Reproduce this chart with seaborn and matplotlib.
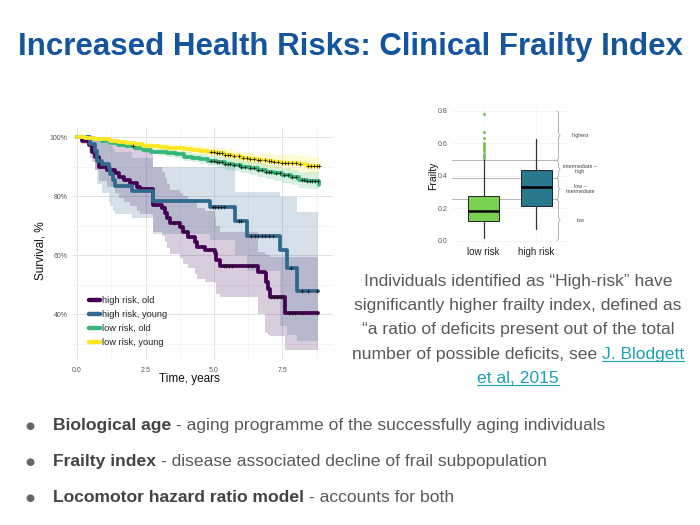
import numpy as np
import pandas as pd
import seaborn as sns
import matplotlib.pyplot as plt
from matplotlib.lines import Line2D

sns.set_theme(style="whitegrid")
plt.rcParams['font.family'] = ['Liberation Sans', 'DejaVu Sans']

W, H = 700, 525

# ---- survival curves (Kaplan-Meier) ----
groups = ['high risk, old', 'high risk, young', 'low risk, old', 'low risk, young']
colors = ['#440154', '#31688E', '#35B779', '#FDE725']

ho_t = [0, 0.18, 0.42, 0.55, 0.67, 0.79, 1.09, 1.39, 1.52, 1.70, 1.94, 2.18, 2.30, 2.79, 3.09, 3.21, 3.27,
        3.39, 3.76, 3.88, 4.06, 4.30, 4.37, 4.67, 5.03, 5.09, 5.21, 6.61, 6.85, 6.90, 6.97, 7.03, 7.58, 8.80]
ho_s = [100, 98.7, 97.3, 95.0, 93.3, 90.0, 88.9, 87.7, 86.5, 85.4, 84.3, 83.2, 82.4, 77.0, 75.9, 74.2, 72.5,
        70.8, 69.7, 68.0, 66.3, 64.6, 62.9, 61.8, 60.6, 58.4, 56.4, 54.4, 53.8, 50.9, 48.7, 45.9, 40.5, 40.5]
ho_lo = [100, 97.5, 94.5, 91.5, 89, 85, 83, 81, 79.5, 78, 76.5, 75, 74, 68, 66.5, 64.5, 62.5,
         60.5, 59, 57, 55.5, 53.5, 52, 51, 50.5, 47, 46, 40, 34, 33.5, 33, 32.5, 28, 28]
ho_hi = [100, 100, 100, 100, 99.5, 99, 98.5, 98, 97.5, 97, 96.5, 96, 95.5, 90, 88, 86, 84,
         82, 81, 80, 79, 77.5, 76, 75, 73, 70, 68, 61, 60.5, 60, 60, 59.5, 59.5, 59.5]
ho_c = [3.55, 5.35, 5.45, 5.55, 5.65, 6.25, 6.4, 7.1, 7.2, 7.3, 7.45, 7.75, 7.85, 7.95, 8.2, 8.75]

hy_t = [0, 0.48, 0.67, 0.73, 0.91, 1.15, 1.21, 1.30, 1.39, 2.00, 2.79, 4.85, 5.77, 6.20, 7.42, 7.68, 8.05, 8.80]
hy_s = [100, 97.5, 95.3, 91.9, 90.8, 89.6, 87.4, 85.5, 83.4, 81.7, 78.3, 76.2, 71.7, 66.4, 61.7, 55.6, 47.8, 47.8]
hy_lo = [100, 93, 89, 84, 81, 78, 76.5, 75, 74, 72.5, 67, 65, 60, 54.5, 36, 33, 31, 31]
hy_hi = [100, 100, 100, 99, 98.5, 98, 97, 96, 95, 93, 89.8, 89.8, 81.4, 81.4, 79.7, 79.7, 74.6, 74.6]
hy_c = [4.95, 5.05, 5.15, 5.25, 5.35, 5.9, 6.0, 6.35, 6.5, 6.6, 6.75, 6.85, 7.0, 7.15, 7.8, 8.2, 8.45, 8.75]

low_t = [0, 0.3, 0.6, 0.9, 1.2, 1.5, 1.8, 2.1, 2.4, 2.7, 3.0, 3.3, 3.6, 3.9, 4.2,
         4.5, 4.8, 5.1, 5.4, 5.7, 6.0, 6.3, 6.6, 6.9, 7.2, 7.5, 7.8, 8.1, 8.4, 8.85]
lo_s = [100, 99.7, 99.2, 98.5, 97.9, 97.4, 96.9, 96.2, 95.6, 95.1, 94.8, 94.5, 94.1, 93.4, 92.9,
        92.6, 91.9, 91.4, 90.9, 90.4, 89.9, 89.4, 88.9, 88.2, 87.7, 87.0, 86.3, 85.5, 85.2, 83.9]
lo_lo = [100, 99.5, 98.9, 98.1, 97.4, 96.8, 96.2, 95.4, 94.7, 94.1, 93.7, 93.3, 92.8, 92.0, 91.4,
         91.0, 90.2, 89.6, 89.0, 88.4, 87.8, 87.2, 86.6, 85.8, 85.2, 84.4, 83.6, 82.7, 82.3, 80.8]
lo_hi = [100, 99.9, 99.5, 98.9, 98.4, 98.0, 97.6, 97.0, 96.5, 96.1, 95.9, 95.7, 95.4, 94.8, 94.4,
         94.2, 93.6, 93.2, 92.8, 92.4, 92.0, 91.6, 91.2, 90.6, 90.2, 89.6, 89.0, 88.3, 88.1, 87.0]
lo_c = [2.05, 4.9, 5.0, 5.1, 5.2, 5.3, 5.4, 5.5, 5.6, 5.75, 5.9, 6.0, 6.15, 6.3, 6.45, 6.6, 6.75,
        6.9, 7.0, 7.1, 7.25, 7.4, 7.55, 7.7, 7.85, 8.0, 8.2, 8.3, 8.4, 8.5, 8.6, 8.7, 8.8]

ly_s = [100, 99.8, 99.5, 99.2, 98.8, 98.4, 97.9, 97.5, 97.1, 96.8, 96.6, 96.4, 96.2, 95.9, 95.6,
        95.3, 95.0, 94.5, 94.0, 93.5, 93.0, 92.5, 92.2, 91.9, 91.6, 91.3, 91.2, 91.0, 90.3, 90.3]
ly_lo = [100, 99.7, 99.3, 98.9, 98.4, 97.9, 97.3, 96.8, 96.3, 95.9, 95.6, 95.3, 95.0, 94.6, 94.2,
         93.8, 93.4, 92.8, 92.2, 91.6, 91.0, 90.4, 90.0, 89.6, 89.2, 88.8, 88.6, 88.3, 87.5, 87.4]
ly_hi = [100, 99.9, 99.7, 99.5, 99.2, 98.9, 98.5, 98.2, 97.9, 97.7, 97.6, 97.5, 97.4, 97.2, 97.0,
         96.8, 96.6, 96.2, 95.8, 95.4, 95.0, 94.6, 94.4, 94.2, 94.0, 93.8, 93.8, 93.7, 93.1, 93.2]
ly_c = [4.9, 5.0, 5.1, 5.2, 5.3, 5.4, 5.5, 5.6, 5.75, 5.9, 6.05, 6.2, 6.3, 6.45, 6.6, 6.7, 6.85,
        7.0, 7.1, 7.2, 7.35, 7.5, 7.6, 7.7, 7.85, 8.0, 8.15, 8.45, 8.55, 8.65, 8.75, 8.85]

curves = [(ho_t, ho_s, ho_lo, ho_hi, ho_c),
          (hy_t, hy_s, hy_lo, hy_hi, hy_c),
          (low_t, lo_s, lo_lo, lo_hi, lo_c),
          (low_t, ly_s, ly_lo, ly_hi, ly_c)]

# ---- frailty boxplot ----
box_labels = ['low risk', 'high risk']
box_colors = ['#7AD151', '#2A788E']
box_q1 = [0.123, 0.211]
box_med = [0.183, 0.328]
box_q3 = [0.275, 0.433]
box_lo = [0.014, 0.072]
box_hi = [0.500, 0.624]
low_outliers = [0.508, 0.522, 0.536, 0.550, 0.564, 0.578, 0.592, 0.603,
                0.632, 0.671, 0.782]
cut_points = [0.254, 0.385, 0.495]
band_names = ['low', 'low –\nintermediate', 'intermediate –\nhigh', 'highest']
band_edges = [0.0, 0.254, 0.385, 0.495, 0.80]

fig = plt.figure(figsize=(7, 5.25), dpi=100)

# ================= survival panel =================
ax = fig.add_axes([73 / W, 1 - 360 / H, 260 / W, 233 / H])
ax.set_facecolor('white')

rows = []
for g, (t, s, lo, hi, c) in zip(groups, curves):
    for ti, si in zip(t, s):
        rows.append((g, ti, si))
surv = pd.DataFrame(rows, columns=['group', 'time', 'surv'])

for col, (t, s, lo, hi, c) in zip(colors, curves):
    ax.fill_between(t, lo, hi, step='post', color=col, alpha=0.2, lw=0)

sns.lineplot(data=surv, x='time', y='surv', hue='group', palette=colors, estimator=None,
             drawstyle='steps-post', lw=2.7, ax=ax, legend=False, sort=False)

cens = []
for g, (t, s, lo, hi, c) in zip(groups, curves):
    idx = np.searchsorted(t, c, side='right') - 1
    for ci, yi in zip(c, np.asarray(s)[idx]):
        cens.append((g, ci, yi))
cens = pd.DataFrame(cens, columns=['group', 'time', 'surv'])
sns.scatterplot(data=cens, x='time', y='surv', marker='+', color='#111111', s=7,
                linewidth=0.5, ax=ax, legend=False, zorder=5)

ax.set_xlim(-0.15, 9.35)
ax.set_ylim(24.5, 103.4)
ax.set_xticks([0, 2.5, 5, 7.5])
ax.set_xticklabels(['0.0', '2.5', '5.0', '7.5'])
ax.set_yticks([40, 60, 80, 100])
ax.set_yticklabels(['40%', '60%', '80%', '100%'])
ax.set_xticks([1.25, 3.75, 6.25, 8.75], minor=True)
ax.set_yticks([30, 50, 70, 90], minor=True)
ax.grid(which='major', color='#e3e3e3', lw=0.7)
ax.grid(which='minor', color='#f0f0f0', lw=0.5)
for sp in ax.spines.values():
    sp.set_visible(False)
ax.tick_params(axis='both', which='major', labelsize=5, labelcolor='#555555', length=2,
               color='#777777', pad=2, width=0.5)
ax.tick_params(axis='x', length=0, pad=5)
ax.tick_params(which='minor', length=0)
ax.set_xlabel('Time, years', fontsize=8.5, color='#111111')
ax.set_ylabel('Survival, %', fontsize=8.5, color='#111111')
ax.xaxis.set_label_coords(0.446, -0.055)
ax.yaxis.set_label_coords(-0.10, 0.47)

handles = [Line2D([], [], color=c, lw=3.2) for c in colors]
ax.legend(handles, groups, loc='upper left', bbox_to_anchor=(0.045, 0.295), frameon=False,
          fontsize=6.7, handlelength=1.1, handletextpad=0.3, labelspacing=0.55, borderpad=0)

# ================= frailty boxplot =================
bx = fig.add_axes([452 / W, 1 - 244 / H, 116 / W, 136.5 / H])
bx.set_facecolor('white')
stats = []
for i in range(2):
    stats.append(dict(label=box_labels[i], q1=box_q1[i], med=box_med[i], q3=box_q3[i],
                      whislo=box_lo[i], whishi=box_hi[i],
                      fliers=low_outliers if i == 0 else []))
bp = bx.bxp(stats, positions=[1, 2], widths=0.6, patch_artist=True,
            boxprops=dict(edgecolor='#222222', lw=0.7),
            medianprops=dict(color='black', lw=1.8),
            whiskerprops=dict(color='#333333', lw=0.9),
            capprops=dict(lw=0),
            flierprops=dict(marker='o', markersize=1.7, markerfacecolor='#7AD151',
                            markeredgecolor='#5a9e3a', markeredgewidth=0.3))
for patch, col in zip(bp['boxes'], box_colors):
    patch.set_facecolor(col)

for cp in cut_points:
    bx.plot([0.4, 2.4], [cp, cp], ls=(0, (1.2, 1.2)), color='#555555', lw=0.6, zorder=1)

bx.set_xlim(0.4, 2.6)
bx.set_ylim(-0.02, 0.82)
bx.set_yticks([0.0, 0.2, 0.4, 0.6, 0.8])
bx.set_yticklabels(['0.0', '0.2', '0.4', '0.6', '0.8'])
bx.grid(color='#f2f2f2', lw=0.5)
for sp in bx.spines.values():
    sp.set_visible(False)
bx.tick_params(axis='y', labelsize=5, labelcolor='#555555', length=2, pad=1.5, width=0.5, color='#777777')
bx.tick_params(axis='x', labelsize=7, labelcolor='#222222', length=0, pad=2)
bx.set_ylabel('Frailty', fontsize=7.5, color='#111111')
bx.yaxis.set_label_coords(-0.12, 0.5)

# braces with category names
xb = 2.42
for lo_e, hi_e, name in zip(band_edges[:-1], band_edges[1:], band_names):
    mid = (lo_e + hi_e) / 2
    e = 0.012
    bx.plot([xb - 0.03, xb, xb, xb + 0.03, xb, xb, xb - 0.03],
            [lo_e, lo_e + e, mid - e, mid, mid + e, hi_e - e, hi_e],
            color='#aaaaaa', lw=0.6, clip_on=False)
    bx.text(2.83, mid, name, fontsize=3.8, color='#444444', ha='center', va='center',
            linespacing=1.1, clip_on=False)

# ================= slide text =================
fig.text(351 / W, 1 - 47 / H, 'Increased Health Risks: Clinical Frailty Index',
         fontsize=22.5, fontweight='bold', color='#14559e', ha='center', va='center')

r = fig.canvas.get_renderer()
grey = '#595959'
para_size = 12.6


def run_line(y_px, parts, x_px, center, size, ul_color=None):
    objs = []
    for txt, col, wt in parts:
        objs.append(fig.text(0, 0, txt, fontsize=size, color=col, fontweight=wt, va='baseline'))
    widths = [o.get_window_extent(r).width for o in objs]
    sp = 0.278 * size * fig.dpi / 72
    total = sum(widths) + sp * (len(objs) - 1)
    x0 = x_px - total / 2 if center else x_px
    for o, w, (txt, col, wt) in zip(objs, widths, parts):
        o.set_position((x0 / W, 1 - y_px / H))
        if col == ul_color:
            fig.add_artist(Line2D([x0 / W, (x0 + w) / W], [1 - (y_px + 2.4) / H] * 2,
                                  color=col, lw=0.8))
        x0 += w + sp


link = '#1b9fb5'
para = [
    [('Individuals identified as “High-risk” have', grey, 'normal')],
    [('significantly higher frailty index, defined as', grey, 'normal')],
    [('“a ratio of deficits present out of the total', grey, 'normal')],
    [('number of possible deficits, see', grey, 'normal'), ('J. Blodgett', link, 'normal')],
    [('et al, 2015', link, 'normal')],
]
for i, parts in enumerate(para):
    run_line(286 + 24.2 * i, parts, 518, True, para_size, ul_color=link)

bullets = [
    ('Biological age', '- aging programme of the successfully aging individuals'),
    ('Frailty index', '- disease associated decline of frail subpopulation'),
    ('Locomotor hazard ratio model', '- accounts for both'),
]
for i, (b, rest) in enumerate(bullets):
    y = 430 + 36 * i
    fig.text(30 / W, 1 - (y - 4.5) / H, '●', fontsize=7.5, color='#666666', ha='center', va='center',
             family=['DejaVu Sans'])
    run_line(y, [(b, '#444444', 'bold'), (rest, grey, 'normal')], 53, False, 12.6)

fig.savefig('out.png', dpi=100)
